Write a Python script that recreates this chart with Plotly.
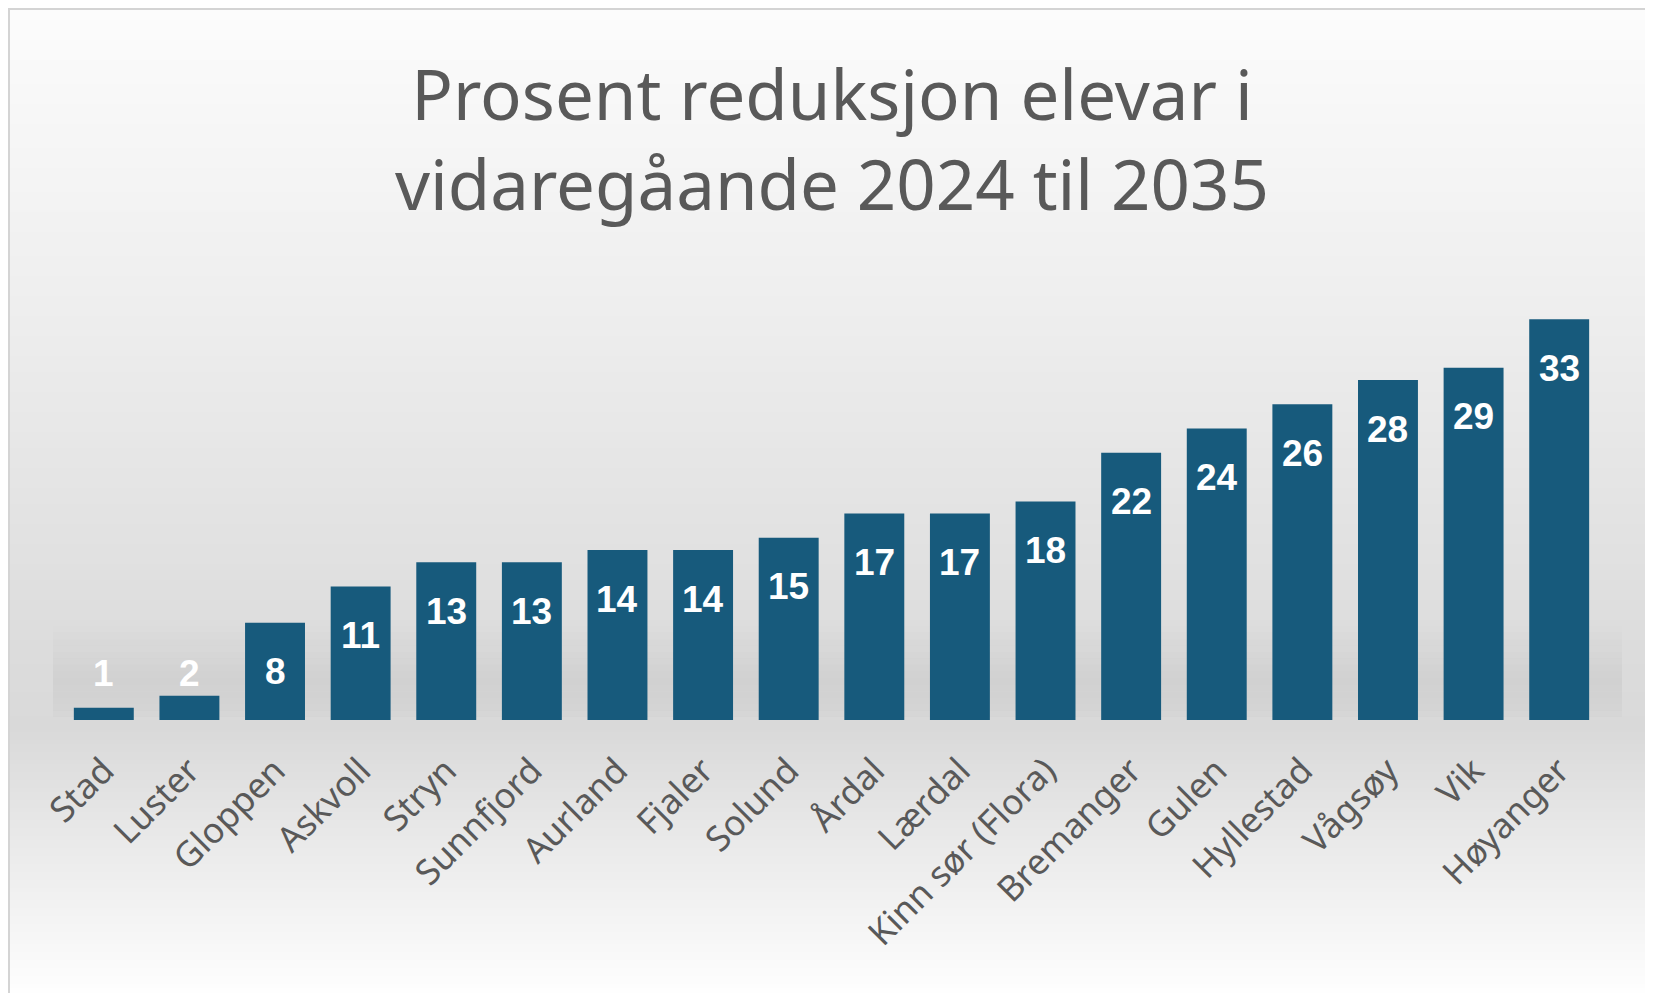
import plotly.graph_objects as go

kommunar = ["Stad", "Luster", "Gloppen", "Askvoll", "Stryn", "Sunnfjord", "Aurland",
            "Fjaler", "Solund", "Årdal", "Lærdal", "Kinn sør (Flora)", "Bremanger",
            "Gulen", "Hyllestad", "Vågsøy", "Vik", "Høyanger"]
reduksjon = [1, 2, 8, 11, 13, 13, 14, 14, 15, 17, 17, 18, 22, 24, 26, 28, 29, 33]

title_text = "Prosent reduksjon elevar i<br>vidaregåande 2024 til 2035"

W, H = 1653, 993
L, R, T, B = 53, 59, 287, 281
PW, PH = W - L - R, H - T - B


# piksel (frå øvre venstre hjørne) -> paper-koordinatar
def px_x(x):
    return (x - L) / PW


def px_y(y):
    return (H - B - y) / PH


# bakgrunn: grå gradient (kvit oppe, grå ved grunnlinja, kvit nede)
stops = [(0, 252), (300, 238), (620, 221), (720, 217), (830, 233), (993, 255)]


def grey_at(y):
    for (y0, g0), (y1, g1) in zip(stops[:-1], stops[1:]):
        if y0 <= y <= y1:
            return g0 + (g1 - g0) * (y - y0) / (y1 - y0)
    return 255


shapes = []
step = 4
for y in range(0, H, step):
    g = int(round(grey_at(y + step / 2)))
    shapes.append(dict(type="rect", xref="paper", yref="paper", layer="below",
                       x0=px_x(0), x1=px_x(W), y0=px_y(y + step), y1=px_y(y),
                       fillcolor=f"rgb({g},{g},{g})", line=dict(width=0)))

# mjuk skugge bak søylene
for i in range(14):
    y0 = 618 + i * 6.5
    a = 0.07 * (1 - abs(i - 8) / 9)
    shapes.append(dict(type="rect", xref="paper", yref="paper", layer="below",
                       x0=px_x(45), x1=px_x(1614), y0=px_y(y0 + 6.5), y1=px_y(y0),
                       fillcolor=f"rgba(80,80,80,{a:.3f})", line=dict(width=0)))

# ramme rundt heile diagrammet
shapes.append(dict(type="rect", xref="paper", yref="paper",
                   x0=px_x(1), x1=px_x(W - 1), y0=px_y(H - 1), y1=px_y(1),
                   line=dict(color="#d4d4d4", width=2)))

fig = go.Figure(go.Bar(
    x=kommunar, y=reduksjon,
    marker=dict(color="#175a7c", line=dict(width=0)),
    hoverinfo="x+y",
))

# dataetikettar: inne i toppen av søyla, eller over grunnlinja når søyla er for låg
annotations = []
for k, v in zip(kommunar, reduksjon):
    inside = v >= 8
    annotations.append(dict(
        x=k, y=v if inside else 0, xref="x", yref="y",
        text=f"<b>{v}</b>", showarrow=False,
        yanchor="middle", yshift=-49 if inside else 47,
        font=dict(family="Liberation Sans", size=37, color="white"),
    ))

# tittel som annotasjon (to liner, sentrert)
annotations.append(dict(
    x=0.5, y=px_y(130), xref="paper", yref="paper", xanchor="center", yanchor="middle",
    text=title_text, showarrow=False, align="center",
    font=dict(family="Noto Sans", size=69, color="#595959"),
))

fig.update_layout(
    width=W, height=H,
    margin=dict(l=L, r=R, t=T, b=B, autoexpand=False),
    paper_bgcolor="white", plot_bgcolor="rgba(0,0,0,0)",
    bargap=0.3,
    showlegend=False,
    shapes=shapes,
    annotations=annotations,
    xaxis=dict(tickangle=-45, showline=False, showgrid=False, ticks="",
               automargin=False, ticklabelstandoff=22,
               tickfont=dict(family="Noto Sans", size=35, color="#595959")),
    yaxis=dict(range=[0, 35], visible=False, showgrid=False, automargin=False),
)

fig.write_html("out.html")
